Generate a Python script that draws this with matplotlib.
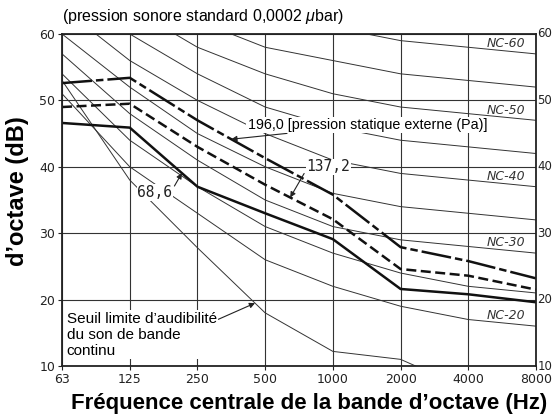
import numpy as np
import matplotlib
matplotlib.use("Agg")
import matplotlib.pyplot as plt

plt.rcParams['font.family'] = ['Liberation Sans', 'DejaVu Sans']
plt.rcParams['mathtext.fontset'] = 'custom'
plt.rcParams['mathtext.it'] = 'Liberation Sans:italic'

# octave bands
freqs = ['63', '125', '250', '500', '1000', '2000', '4000', '8000']
yticks = [10, 20, 30, 40, 50, 60]

# NC curves (dB)
nc_names = ['NC-20', 'NC-25', 'NC-30', 'NC-35', 'NC-40', 'NC-45', 'NC-50', 'NC-55', 'NC-60']
nc_values = [
    [51, 40, 33, 26, 22, 19, 17, 16],
    [54, 44, 37, 31, 27, 24, 22, 21],
    [57, 48, 41, 35, 31, 29, 28, 27],
    [60, 52, 45, 40, 36, 34, 33, 32],
    [64, 56, 50, 45, 41, 39, 38, 37],
    [67, 60, 54, 49, 46, 44, 43, 42],
    [71, 64, 58, 54, 51, 49, 48, 47],
    [74, 67, 62, 58, 56, 54, 53, 52],
    [77, 71, 67, 63, 61, 59, 58, 57],
]
nc_labelled = ['NC-20', 'NC-30', 'NC-40', 'NC-50', 'NC-60']

# threshold of hearing, continuous band noise
seuil = [53, 38, 27.8, 18.0, 12.2, 11.0, 6.5, 4.0]

# measured spectra at external static pressures (Pa)
p196 = [52.6, 53.4, 47.0, 41.3, 35.8, 27.9, 25.8, 23.2]
p137 = [49.0, 49.5, 43.0, 37.3, 32.1, 24.6, 23.6, 21.5]
p68 = [46.6, 45.9, 37.0, 33.0, 29.1, 21.6, 20.8, 19.6]

x = np.arange(len(freqs))

fig = plt.figure(figsize=(5.54, 4.18), dpi=100)
ax = fig.add_axes([0.112, 0.1244, 0.8555, 0.7943])

ax.set_xlim(0, 7)
ax.set_ylim(10, 60)
ax.set_xticks(x)
ax.set_xticklabels(freqs)
ax.set_yticks(yticks)
ax.grid(True, color='#333333', lw=0.8)
ax.set_axisbelow(True)
for s in ax.spines.values():
    s.set_linewidth(1.3)
    s.set_color('#222222')
ax.tick_params(axis='both', length=3, width=0.8, colors='#222222',
               labelsize=9, labelfontfamily='DejaVu Sans')
ax.tick_params(axis='x', pad=2)
ax.tick_params(axis='y', pad=2)

# right-hand scale, close to the frame
for v in yticks:
    ax.text(1.003, v, str(v), transform=ax.get_yaxis_transform(),
            fontsize=8.5, family='DejaVu Sans', color='#222222',
            ha='left', va='center')

# NC curves
for name, vals in zip(nc_names, nc_values):
    ax.plot(x, vals, color='#333333', lw=0.7)
    if name in nc_labelled:
        ly = np.interp(6.55, x, vals) + 1.1
        ax.text(6.55, ly, name, fontsize=9, style='italic', color='#333333',
                family='DejaVu Sans', ha='center', va='center')

ax.plot(x, seuil, color='#333333', lw=0.7)

# heavy lines
ax.plot(x, p196, color='#111111', lw=1.8, dashes=(12, 1.6, 3, 1.6))
ax.plot(x, p137, color='#111111', lw=1.8, dashes=(4, 1.8))
ax.plot(x, p68, color='#111111', lw=1.8)

# annotations
ax.annotate('196,0 [pression statique externe (Pa)]', xy=(2.50, np.interp(2.50, x, p196)),
            xytext=(2.74, 46.3), fontsize=10.3, ha='left', va='center',
            bbox=dict(facecolor='white', edgecolor='none', pad=1),
            arrowprops=dict(arrowstyle='-|>', color='#222222', lw=0.8,
                            shrinkA=0, shrinkB=0, mutation_scale=8))
ax.annotate('137,2', xy=(3.37, np.interp(3.37, x, p137)),
            xytext=(3.93, 40.0), fontsize=10.5, family='DejaVu Sans Mono',
            ha='center', va='center', color='#222222',
            bbox=dict(facecolor='white', edgecolor='none', pad=0.5),
            arrowprops=dict(arrowstyle='-|>', color='#222222', lw=0.8,
                            shrinkA=2, shrinkB=0, mutation_scale=8,
                            relpos=(0.0, 0.3)))
ax.annotate('68,6', xy=(1.77, np.interp(1.77, x, p68)),
            xytext=(1.37, 36.1), fontsize=10.5, family='DejaVu Sans Mono',
            ha='center', va='center', color='#222222',
            bbox=dict(facecolor='white', edgecolor='none', pad=0.5),
            arrowprops=dict(arrowstyle='-|>', color='#222222', lw=0.8,
                            shrinkA=2, shrinkB=0, mutation_scale=8,
                            relpos=(1.0, 0.7)))
ax.annotate('Seuil limite d\u2019audibilit\u00e9\ndu son de bande\ncontinu',
            xy=(2.85, np.interp(2.85, x, seuil)), xytext=(0.07, 14.7),
            fontsize=11, ha='left', va='center', linespacing=1.2,
            bbox=dict(facecolor='white', edgecolor='none', pad=1),
            arrowprops=dict(arrowstyle='-|>', color='#222222', lw=0.8,
                            shrinkA=0, shrinkB=0, mutation_scale=8,
                            relpos=(1.0, 0.82)))

fig.text(62 / 554, 1 - 16 / 418, r'(pression sonore standard 0,0002 $\mathit{\mu}$bar)',
         fontsize=11.5, ha='left', va='center')
fig.text(309 / 554, 1 - 403 / 418, 'Fr\u00e9quence centrale de la bande d\u2019octave (Hz)',
         fontsize=16, fontweight='bold', ha='center', va='center')
fig.text(18 / 554, 1 - 191 / 418, 'd\u2019octave (dB)', rotation=90,
         fontsize=17, fontweight='bold', ha='center', va='center')

fig.savefig('out.png', dpi=100)
